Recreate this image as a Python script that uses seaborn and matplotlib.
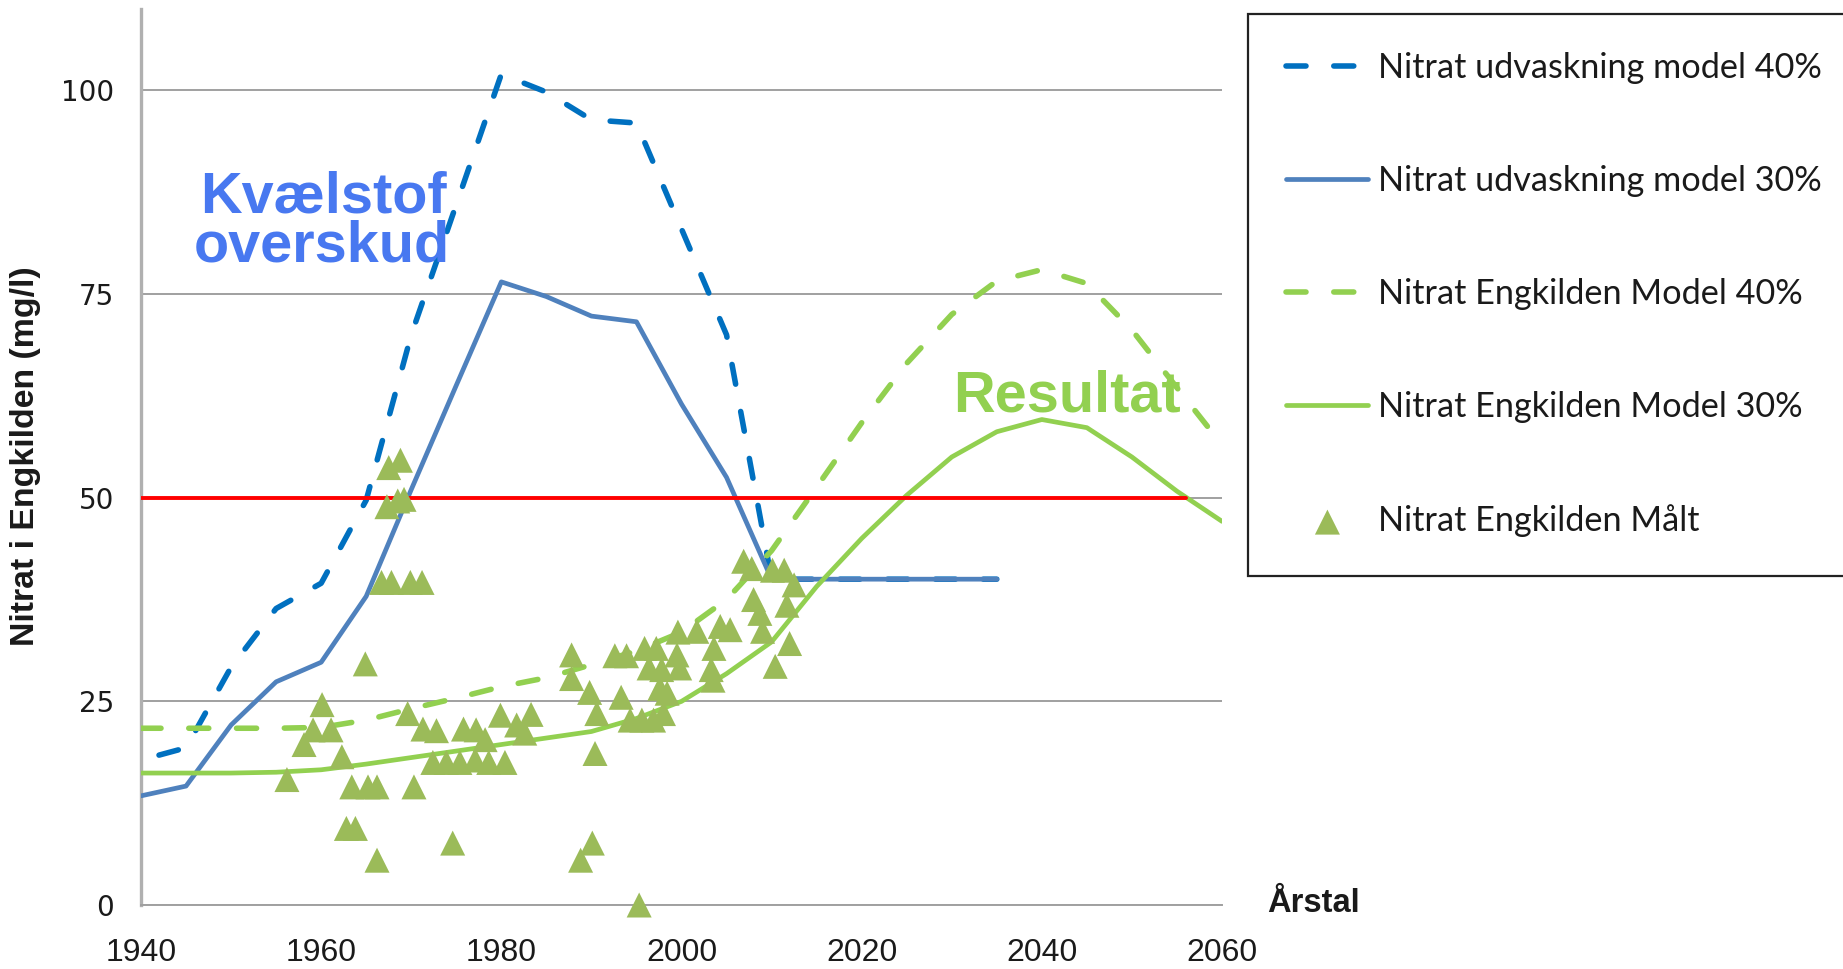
import numpy as np
import pandas as pd
import matplotlib
matplotlib.use('Agg')
import matplotlib.pyplot as plt
import seaborn as sns

# --- data ---
years_b40 = [1942, 1945, 1950, 1955, 1960, 1965, 1970, 1975, 1980, 1985,
             1990, 1995, 2000, 2005, 2010, 2015, 2020, 2025, 2030, 2035]
blue_40 = [18.4, 19.3, 29.2, 36.4, 39.5, 49.7, 70.0, 86.0, 102.0, 99.8,
           96.4, 96.0, 83.0, 70.0, 40.0, 40.0, 40.0, 40.0, 40.0, 40.0]

years_b30 = [1940, 1945, 1950, 1955, 1960, 1965, 1970, 1975, 1980, 1985,
             1990, 1995, 2000, 2005, 2010, 2015, 2020, 2025, 2030, 2035]
blue_30 = [13.4, 14.6, 22.1, 27.4, 29.8, 37.9, 51.0, 63.8, 76.5, 74.7,
           72.3, 71.6, 61.5, 52.5, 40.0, 40.0, 40.0, 40.0, 40.0, 40.0]

years_green = [1940, 1945, 1950, 1955, 1960, 1965, 1970, 1975, 1980, 1985,
               1990, 1995, 2000, 2005, 2010, 2015, 2020, 2025, 2030, 2035,
               2040, 2045, 2050, 2055, 2060]
green_40 = [21.7, 21.7, 21.7, 21.7, 21.8, 22.7, 24.1, 25.4, 26.8, 27.9,
            29.5, 31.2, 33.5, 37.5, 43.5, 51.3, 59.2, 66.5, 72.5, 76.6,
            78.0, 76.3, 70.6, 63.5, 56.5]
green_30 = [16.2, 16.2, 16.2, 16.3, 16.6, 17.3, 18.1, 18.9, 19.7, 20.5,
            21.3, 22.9, 25.0, 28.4, 32.3, 39.1, 45.0, 50.3, 55.0, 58.1,
            59.6, 58.6, 55.0, 50.8, 47.1]

limit_years = [1940, 2056]
limit_vals = [50, 50]

meas_year = [1956.2, 1958.1, 1959.1, 1960.1, 1961.1, 1962.3, 1962.8, 1963.8, 1963.4, 1964.9, 1965.2, 1966.2, 1966.2,
             1966.7, 1967.8, 1969.9, 1971.2, 1967.5, 1968.8, 1967.3, 1968.5, 1969.2,
             1969.6, 1970.3, 1971.3, 1972.8, 1975.8, 1977.2, 1972.4, 1973.9, 1975.4, 1977.1, 1978.6, 1980.4,
             1978.2, 1974.6, 1979.9, 1981.7, 1983.3, 1982.6,
             1987.8, 1987.8, 1989.8, 1990.6, 1990.4, 1988.8, 1990.1, 1995.3,
             1992.6, 1993.9, 1993.3, 1994.3, 1995.6, 1996.9, 1995.9, 1997.2, 1996.4, 1997.8, 1997.6, 1998.4, 1998.0,
             1999.6, 1999.5, 1999.8, 2001.7, 2003.3, 2003.5, 2003.6, 2004.3, 2005.4,
             2006.9, 2007.8, 2008.0, 2008.7, 2009.0, 2010.1, 2011.4, 2012.5, 2011.7, 2010.4, 2012.0]
meas_val = [15.4, 19.7, 21.5, 24.6, 21.5, 18.2, 9.4, 9.4, 14.5, 29.6, 14.5, 14.5, 5.5,
            39.6, 39.6, 39.6, 39.6, 53.7, 54.6, 48.9, 49.6, 49.8,
            23.5, 14.5, 21.6, 21.4, 21.6, 21.5, 17.5, 17.5, 17.5, 17.8, 17.5, 17.5,
            20.3, 7.6, 23.3, 22.1, 23.4, 21.1,
            30.7, 27.8, 26.1, 23.5, 18.6, 5.5, 7.6, 0.0,
            30.6, 30.6, 25.5, 22.7, 22.7, 22.7, 31.5, 31.5, 29.1, 28.9, 26.6, 26.0, 23.5,
            33.5, 30.7, 29.1, 33.6, 28.9, 27.6, 31.5, 34.2, 33.8,
            42.2, 41.3, 37.5, 35.8, 33.6, 41.1, 41.1, 39.3, 36.8, 29.3, 32.1]

x_ticks = [1940, 1960, 1980, 2000, 2020, 2040, 2060]
y_ticks = [0, 25, 50, 75, 100]

labels = ['Nitrat udvaskning model 40%', 'Nitrat udvaskning model 30%',
          'Nitrat Engkilden Model 40%', 'Nitrat Engkilden Model 30%',
          'Nitrat Engkilden Målt']

# --- style ---
sns.set_style('white')
plt.rcParams['font.family'] = ['Liberation Sans', 'DejaVu Sans']

fig = plt.figure(figsize=(18.43, 9.69), dpi=100)
ax = fig.add_axes([141 / 1843, 1 - 905 / 969, (1222 - 141) / 1843, 896 / 969])

dash = (0, (3.6, 5.0))
sns.lineplot(x=years_b40, y=blue_40, ax=ax, color='#0070C0', lw=4.0,
             linestyle=dash, dash_capstyle='round', label=labels[0], zorder=3)
sns.lineplot(x=years_b30, y=blue_30, ax=ax, color='#4F81BD', lw=3.4,
             label=labels[1], zorder=3)
sns.lineplot(x=years_green, y=green_40, ax=ax, color='#92D050', lw=4.0,
             linestyle=dash, dash_capstyle='round', label=labels[2], zorder=3)
sns.lineplot(x=years_green, y=green_30, ax=ax, color='#92D050', lw=3.4,
             label=labels[3], zorder=3)
sns.lineplot(x=limit_years, y=limit_vals, ax=ax, color='#FF0000', lw=2.8, zorder=3)
sns.scatterplot(x=meas_year, y=meas_val, ax=ax, marker='^', s=324,
                color='#9BBB59', edgecolor='none', linewidth=0, zorder=5,
                clip_on=False, label=labels[4])

if ax.get_legend() is not None:
    ax.get_legend().remove()

# axes
ax.set_xlim(1940, 2060)
ax.set_ylim(0, 110)
ax.set_xticks(x_ticks)
ax.set_yticks(y_ticks)
ax.set_xlabel('')
ax.set_ylabel('')
ax.yaxis.grid(True, color='#a0a0a0', lw=1.4)
ax.xaxis.grid(False)
ax.set_axisbelow(True)
for s in ['top', 'right']:
    ax.spines[s].set_visible(False)
ax.spines['left'].set_color('#b0b0b0')
ax.spines['left'].set_linewidth(2.4)
ax.spines['bottom'].set_color('#a0a0a0')
ax.spines['bottom'].set_linewidth(1.4)
ax.tick_params(axis='x', direction='out', length=8.6, width=1.3, color='#a0a0a0',
               pad=15, labelsize=23, labelcolor='#1a1a1a')
ax.tick_params(axis='y', direction='out', length=8.6, width=1.3, color='#a0a0a0',
               pad=11, labelsize=20, labelcolor='#1a1a1a')
for t in ax.get_yticklabels():
    t.set_family('DejaVu Sans')

# annotations
ax.text(1973.97, 84.96, 'Kvælstof', ha='right', va='baseline', fontsize=41.5,
        fontweight='bold', color='#4878F0', zorder=6)
ax.text(1974.3, 78.95, 'overskud', ha='right', va='baseline', fontsize=41.5,
        fontweight='bold', color='#4878F0', zorder=6)
ax.text(2030.2, 60.6, 'Resultat', ha='left', va='baseline', fontsize=41.5,
        fontweight='bold', color='#92D050', zorder=6)

fig.text(26 / 1843, 1 - 456 / 969, 'Nitrat i Engkilden (mg/l)', rotation=90,
         ha='center', va='center', fontsize=24.4, fontweight='bold', color='#1a1a1a')
fig.text(1267 / 1843, 1 - 911.7 / 969, 'Årstal', ha='left', va='baseline',
         fontsize=23.5, fontweight='bold', color='#1a1a1a')

# legend
handles, labs = ax.get_legend_handles_labels()
hmap = dict(zip(labs, handles))
leg = fig.legend([hmap[l] for l in labels], labels, loc='upper left',
                 bbox_to_anchor=(1248 / 1843, 0.3, 0.34, 1 - 14 / 969 - 0.3),
                 mode='expand', borderaxespad=0, fancybox=False,
                 edgecolor='#222222', framealpha=1,
                 prop={'family': 'Lato', 'size': 24.7},
                 handlelength=2.39, handletextpad=0.29, borderpad=1.12,
                 labelspacing=2.36)
leg.get_frame().set_linewidth(1.6)
for t in leg.get_texts():
    t.set_color('#1a1a1a')

plt.savefig('out.png', dpi=100)
plt.close('all')
